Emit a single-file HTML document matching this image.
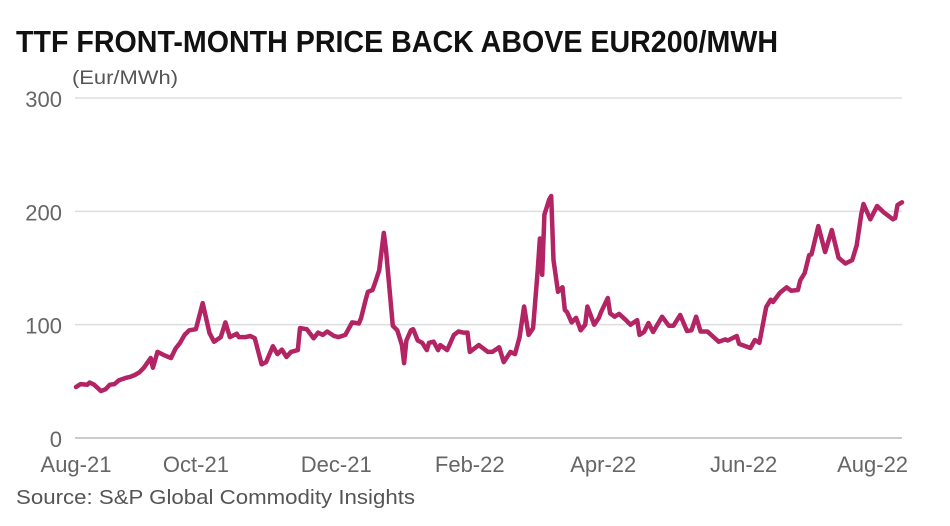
<!DOCTYPE html>
<html><head><meta charset="utf-8"><style>
html,body{margin:0;padding:0;background:#fff;}
svg{display:block;font-family:"Liberation Sans",sans-serif;}
</style></head><body>
<svg id="chart" width="950" height="526" viewBox="0 0 950 526">
<text x="16" y="52" font-size="31" font-weight="bold" fill="#111" textLength="762" lengthAdjust="spacingAndGlyphs">TTF FRONT-MONTH PRICE BACK ABOVE EUR200/MWH</text>
<text x="72" y="84" font-size="19" fill="#555" textLength="106" lengthAdjust="spacingAndGlyphs">(Eur/MWh)</text>
<g id="grid"></g><g id="yt"></g><g id="xt"></g><g id="ln"></g>
<text x="16" y="504" font-size="20" fill="#555" textLength="399" lengthAdjust="spacingAndGlyphs">Source: S&amp;P Global Commodity Insights</text>
</svg>
<script>
const days=[0,2,5,6,8,11,13,15,17,19,22,24,26,28,30,33,34,36,39,42,44,46,48,50,53,56,59,61,64,66,68,71,72,75,77,79,82,84,87,89,91,93,95,98,99,102,105,107,109,111,114,116,119,122,125,126,128,129,131,132,134,136,137,140,142,144,145,146,148,149,151,153,155,156,158,160,161,164,165,167,169,171,173,174,178,182,184,187,189,192,194,196,198,200,202,204,205,206,207,209,210,211,213,215,216,217,219,221,223,225,226,229,231,232,235,236,238,240,243,245,248,249,251,253,255,259,262,264,267,270,272,274,276,279,284,287,288,292,293,298,300,302,305,307,308,311,314,316,319,320,322,324,325,328,331,334,335,337,340,343,345,347,348,351,354,357,361,362,363,365];
const prices=[45,47.6,47,49,47,41.5,43,47,47.6,51,53,54,55.6,58,62,70.6,62,76,73,70.6,79,84,91,95,96,119,92.6,85,89,102,89,92,89,89,90,88,65,67,81,74,78,71.5,76,77.6,97,96,88,93,91,94,90,89,91,102,101,106,122,129,130.6,136,148,181,166,99,95,82,66,86,95,96,86,84,77.6,84,85,77.6,82,77.6,82,91,94,93,93,76,82,76,76,80,67,76,74,89,116,91,97,148,176,144,197,210,213.5,157,129,133,113,111,102,106,95,100,116,100,106,111,123.5,110,107,109.5,104,100,104,91,93.5,101.5,93.5,107,99,99,108.5,94.4,95,107,94,94,85,87,86,90,83,79.4,86.5,84,115.6,122,120,128,133,130,130.6,139,145.6,161.5,162,187,164,183.5,175,159,154,157,170,197.6,206.5,193,204.7,199,193,194,205.6,208];
const yTicks=[0,100,200,300];
const xTickDays=[0,53,115,174,233,295,352];
const xTickLabels=["Aug-21","Oct-21","Dec-21","Feb-22","Apr-22","Jun-22","Aug-22"];
const NS="http://www.w3.org/2000/svg";
const X=d=>76+d/365*826, Y=v=>438-v*340/300;
function mk(t,a,p){const e=document.createElementNS(NS,t);for(const k in a)e.setAttribute(k,a[k]);p.appendChild(e);return e;}
const g=document.getElementById('grid'),yt=document.getElementById('yt'),xt=document.getElementById('xt'),ln=document.getElementById('ln');
yTicks.forEach(v=>{
 const l=mk('line',{x1:75,x2:902,y1:Y(v),y2:Y(v),stroke:v===0?'#bbb':'#ddd','stroke-width':1.5},g);
 
 
 const t=mk('text',{x:62,y:Y(v)+9,'text-anchor':'end','font-size':22,fill:'#666'},yt);
 t.textContent=v;
 
 
});
xTickDays.forEach((d,i)=>{
 const t=mk('text',{x:X(d),y:472,'text-anchor':'middle','font-size':22,fill:'#666'},xt);
 t.textContent=xTickLabels[i];
 
 
});
const p=mk('path',{d:days.map((d,i)=>(i?'L':'M')+X(d).toFixed(1)+' '+Y(prices[i]).toFixed(1)).join(''),fill:'none',stroke:'#b22463','stroke-width':4.5,'stroke-linejoin':'round','stroke-linecap':'round'},ln);


</script>
</body></html>
